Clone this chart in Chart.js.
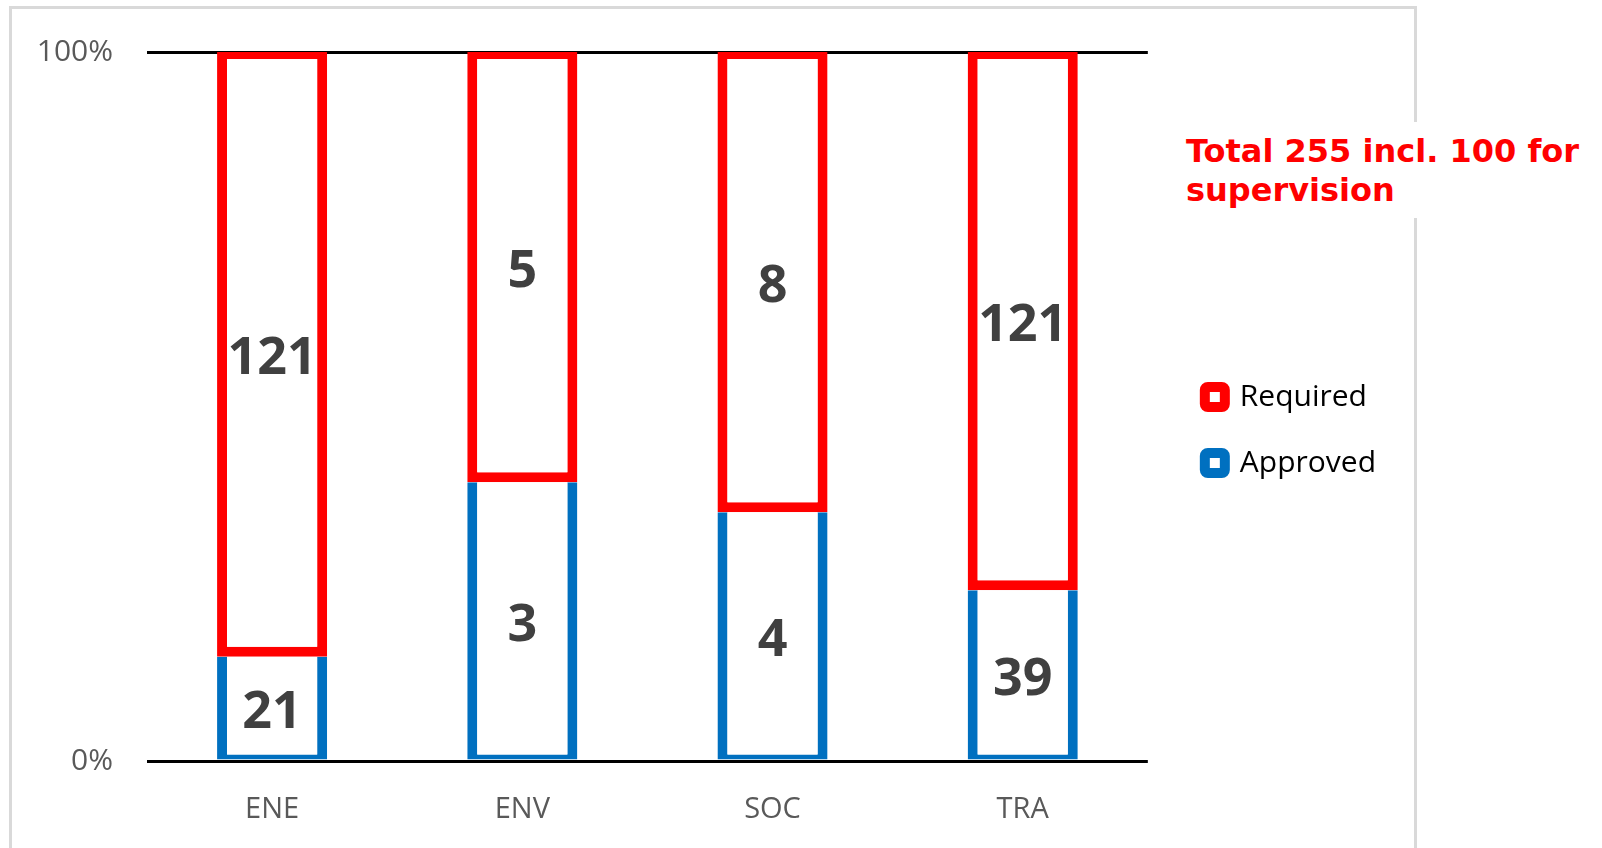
<!DOCTYPE html>
<html>
<head>
<meta charset="utf-8">
<script src="https://cdn.jsdelivr.net/npm/chart.js@4.4.1/dist/chart.umd.min.js"></script>
<style>
html,body{margin:0;padding:0;background:#fff;}
#wrap{position:relative;width:1602px;height:848px;overflow:hidden;background:#fff;}
#frame{position:absolute;left:9px;top:6px;width:1402px;height:900px;border:3px solid #d9d9d9;}
#c{position:absolute;left:0;top:0;}
#note{position:absolute;left:1176px;top:122px;width:426px;height:96px;background:#fff;color:#ff0000;font-family:"DejaVu Sans";font-weight:bold;font-size:32px;line-height:39px;padding:10px 0 0 10px;box-sizing:border-box;white-space:nowrap;}
</style>
</head>
<body>
<div id="wrap">
  <div id="frame"></div>
  <canvas id="c" width="1602" height="848"></canvas>
  <div id="note">Total 255 incl. 100 for<br>supervision</div>
</div>
<script>
// ---- data ----
const categories = ['ENE', 'ENV', 'SOC', 'TRA'];
const approvedCount = [21, 3, 4, 39];
const requiredCount = [121, 5, 8, 121];
// share of each bar (percent)
const approvedShare = [14.7, 39.3, 35.1, 24.1];
const requiredShare = [85.3, 60.7, 64.9, 75.9];
const yTickLabels = {0: '0%', 100: '100%'};
const seriesNames = ['Approved', 'Required'];

const valueLabels = {
  id: 'valueLabels',
  afterDatasetsDraw(chart) {
    const ctx = chart.ctx;
    ctx.save();
    ctx.font = 'bold 52px "Open Sans"';
    ctx.fillStyle = '#404040';
    ctx.textAlign = 'center';
    ctx.textBaseline = 'middle';
    chart.data.datasets.forEach((ds, i) => {
      const meta = chart.getDatasetMeta(i);
      meta.data.forEach((el, j) => {
        const p = el.getProps(['x', 'y', 'base'], true);
        ctx.fillText(String(ds.counts[j]), p.x, (p.y + p.base) / 2 + 5);
      });
    });
    ctx.restore();
  }
};

const legendShift = {
  id: 'legendShift',
  afterLayout(chart) {
    const l = chart.legend;
    const dx = 21, dy = -19;
    l.left += dx; l.right += dx; l.top += dy; l.bottom += dy;
  }
};

new Chart(document.getElementById('c'), {
  type: 'bar',
  data: {
    labels: categories,
    datasets: [
      {
        label: seriesNames[0],
        data: approvedShare,
        counts: approvedCount,
        backgroundColor: '#ffffff',
        borderColor: '#0070c0',
        borderWidth: {top: 0, bottom: 5, left: 10, right: 10},
        borderSkipped: false
      },
      {
        label: seriesNames[1],
        data: requiredShare,
        counts: requiredCount,
        backgroundColor: '#ffffff',
        borderColor: '#ff0000',
        borderWidth: {top: 7, bottom: 10, left: 10, right: 10},
        borderSkipped: false
      }
    ]
  },
  options: {
    responsive: false,
    animation: false,
    devicePixelRatio: 1,
    barPercentage: 0.44,
    categoryPercentage: 1.0,
    layout: {padding: {top: 50, right: 237, bottom: 0, left: 0}},
    plugins: {
      tooltip: {enabled: false},
      legend: {
        position: 'right',
        labels: {
          boxWidth: 20,
          boxHeight: 20,
          padding: 36,
          color: '#595959',
          font: {family: 'Open Sans', size: 30},
          useBorderRadius: true,
          borderRadius: 3,
          generateLabels(chart) {
            return chart.data.datasets.map((ds, i) => ({
              text: ds.label,
              fillStyle: '#ffffff',
              strokeStyle: ds.borderColor,
              lineWidth: 10,
              borderRadius: 3,
              datasetIndex: i,
              hidden: false
            })).reverse();
          }
        }
      }
    },
    scales: {
      x: {
        stacked: true,
        grid: {display: false},
        border: {display: false},
        ticks: {color: '#595959', font: {family: 'Open Sans', size: 29}, padding: 23},
        afterFit(s) { s.height = 87; }
      },
      y: {
        stacked: true,
        min: 0,
        max: 100,
        grid: {color: '#000000', lineWidth: 3, drawTicks: false},
        border: {display: false},
        ticks: {
          stepSize: 100,
          color: '#595959',
          font: {family: 'Open Sans', size: 30},
          padding: 34,
          callback: (v) => yTickLabels[v]
        },
        afterFit(s) { s.width = 147; }
      }
    }
  },
  plugins: [valueLabels, legendShift]
});
</script>
</body>
</html>
